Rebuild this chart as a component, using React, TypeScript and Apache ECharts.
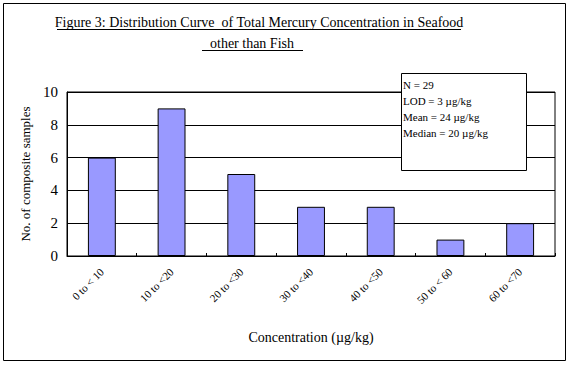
import React, { useEffect, useRef } from "react";
import * as echarts from "echarts";

const categories = ["0 to < 10", "10 to <20", "20 to <30", "30 to <40", "40 to <50", "50 to < 60", "60 to <70"];
const counts = [6, 9, 5, 3, 3, 1, 2];
const statsLines = ["N = 29", "LOD = 3 \u00b5g/kg", "Mean = 24 \u00b5g/kg", "Median = 20 \u00b5g/kg"];
const titleLines = ["Figure 3: Distribution Curve  of Total Mercury Concentration in Seafood", "other than Fish"];

const FONT = "Liberation Serif";

export default function App() {
  const ref = useRef<HTMLDivElement>(null);
  useEffect(() => {
    if (!ref.current) return;
    const chart = echarts.init(ref.current, undefined, { renderer: "svg" });
    const graphics: any[] = [
      { type: "rect", shape: { x: 3.5, y: 3.5, width: 562, height: 357 }, style: { fill: "none", stroke: "#000", lineWidth: 1 }, silent: true },
      { type: "text", x: 259, y: 22, style: { text: titleLines[0], fontFamily: FONT, fontSize: 14, fill: "#000", align: "center", verticalAlign: "middle" } },
      { type: "line", shape: { x1: 57, y1: 29.5, x2: 461, y2: 29.5 }, style: { stroke: "#000", lineWidth: 1 } },
      { type: "text", x: 252, y: 43, style: { text: titleLines[1], fontFamily: FONT, fontSize: 14, fill: "#000", align: "center", verticalAlign: "middle" } },
      { type: "line", shape: { x1: 202, y1: 50.5, x2: 303, y2: 50.5 }, style: { stroke: "#000", lineWidth: 1 } },
      { type: "rect", z: 10, shape: { x: 401.5, y: 73.5, width: 125, height: 97 }, style: { fill: "#fff", stroke: "#000", lineWidth: 1 } },
    ];
    statsLines.forEach((t, i) => {
      graphics.push({ type: "text", z: 11, x: 403, y: 85 + i * 16, style: { text: t, fontFamily: FONT, fontSize: 11, fill: "#000", align: "left", verticalAlign: "middle" } });
    });
    chart.setOption({
      animation: false,
      backgroundColor: "#fff",
      textStyle: { fontFamily: FONT },
      grid: { left: 67, right: 16, top: 92, bottom: 112, show: true, borderColor: "#000", borderWidth: 1 },
      xAxis: {
        type: "category",
        data: categories,
        name: "Concentration (\u00b5g/kg)",
        nameLocation: "middle",
        nameGap: 74,
        nameTextStyle: { fontFamily: FONT, fontSize: 14, color: "#000" },
        axisLine: { lineStyle: { color: "#000" } },
        axisTick: { show: true, inside: true, length: 3, lineStyle: { color: "#000" } },
        axisLabel: { rotate: 45, fontFamily: FONT, fontSize: 11, color: "#000", margin: 14 },
      },
      yAxis: {
        type: "value",
        min: 0,
        max: 10,
        interval: 2,
        name: "No. of composite samples",
        nameLocation: "middle",
        nameGap: 33,
        nameTextStyle: { fontFamily: FONT, fontSize: 13, color: "#000" },
        axisLine: { show: true, lineStyle: { color: "#000" } },
        axisTick: { show: false },
        axisLabel: { fontFamily: FONT, fontSize: 15, color: "#000", margin: 9 },
        splitLine: { show: true, lineStyle: { color: "#000", width: 1 } },
      },
      series: [
        {
          type: "bar",
          data: counts,
          barWidth: "40%",
          itemStyle: { color: "#9999ff", borderColor: "#000", borderWidth: 1 },
        },
      ],
      graphic: graphics,
    });
    return () => chart.dispose();
  }, []);
  return <div ref={ref} style={{ position: "fixed", left: 0, top: 0, width: 571, height: 368 }} />;
}
